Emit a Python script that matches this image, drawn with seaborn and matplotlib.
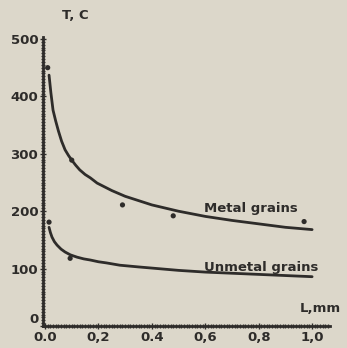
import pandas as pd
import matplotlib.pyplot as plt
import seaborn as sns
from matplotlib.ticker import MultipleLocator

# curves (L in mm, T in C)
metal_L = [0.015, 0.022, 0.03, 0.04, 0.05, 0.062, 0.075, 0.088, 0.1, 0.115, 0.13, 0.15, 0.17, 0.195,
           0.25, 0.3, 0.4, 0.5, 0.6, 0.7, 0.8, 0.9, 1.0]
metal_T = [437, 406, 376, 357, 340, 322, 307, 297, 289, 280, 272, 264, 258, 249,
           236, 226, 211, 200, 191, 184, 178, 172, 168]
unmetal_L = [0.015, 0.02, 0.026, 0.035, 0.045, 0.06, 0.075, 0.095, 0.12, 0.145, 0.17, 0.2, 0.23, 0.28,
             0.35, 0.4, 0.5, 0.6, 0.7, 0.8, 0.9, 1.0]
unmetal_T = [172, 163, 155, 147, 141, 134, 129, 124, 120, 117, 115, 112, 110, 106,
             103, 101, 97, 94, 92, 90, 88, 86]

# measured points
metal_pts_L = [0.01, 0.1, 0.29, 0.48, 0.97]
metal_pts_T = [450, 289, 211, 192, 182]
unmetal_pts_L = [0.015, 0.094]
unmetal_pts_T = [181, 118]

xtick_vals = [0.0, 0.2, 0.4, 0.6, 0.8, 1.0]
xtick_labels = ['0.0', '0,2', '0.4', '0,6', '0,8', '1,0']
ytick_vals = [0, 100, 200, 300, 400, 500]

paper = '#dcd7ca'
ink = '#2e2c2a'

sns.set_style('white')
plt.rcParams['font.family'] = ['DejaVu Sans']

fig = plt.figure(figsize=(3.47, 3.48), dpi=100, facecolor=paper)
ax = fig.add_axes([0.124, 0.063, 0.827, 0.83])
ax.set_facecolor(paper)

curves = pd.concat([
    pd.DataFrame({'L': metal_L, 'T': metal_T, 'grain': 'Metal'}),
    pd.DataFrame({'L': unmetal_L, 'T': unmetal_T, 'grain': 'Unmetal'}),
])
pts = pd.concat([
    pd.DataFrame({'L': metal_pts_L, 'T': metal_pts_T, 'grain': 'Metal'}),
    pd.DataFrame({'L': unmetal_pts_L, 'T': unmetal_pts_T, 'grain': 'Unmetal'}),
])

sns.lineplot(data=curves, x='L', y='T', units='grain', estimator=None,
             color=ink, lw=2, ax=ax, legend=False)
sns.scatterplot(data=pts, x='L', y='T', color=ink, s=14, edgecolor='none',
                ax=ax, legend=False)

ax.set_xlim(-0.0075, 1.067)
ax.set_ylim(0, 503)
sns.despine(ax=ax)
for s in ['left', 'bottom']:
    ax.spines[s].set_color(ink)
    ax.spines[s].set_linewidth(2)

ax.set_xticks(xtick_vals)
ax.set_xticklabels(xtick_labels)
ax.set_yticks(ytick_vals)
# ruler-like dense ticks as in the scan
ax.xaxis.set_minor_locator(MultipleLocator(0.01))
ax.yaxis.set_minor_locator(MultipleLocator(5))
ax.tick_params(which='both', direction='inout', color=ink, width=1,
               bottom=True, left=True)
ax.tick_params(which='major', length=5, pad=1, labelsize=9.5, labelcolor=ink)
ax.tick_params(which='minor', length=3.5)
for lab in ax.get_xticklabels() + ax.get_yticklabels():
    lab.set_fontweight('bold')
ax.get_yticklabels()[0].set_va('bottom')

ax.set_xlabel('')
ax.set_ylabel('')
ax.text(0.064, 540, 'T, C', fontsize=9.5, fontweight='bold', color=ink, va='center')
ax.text(0.955, 31, 'L,mm', fontsize=9.5, fontweight='bold', color=ink, va='center')
ax.text(0.595, 198, 'Metal grains', fontsize=9.5, fontweight='bold', color=ink)
ax.text(0.595, 96, 'Unmetal grains', fontsize=9.5, fontweight='bold', color=ink)

fig.savefig('out.png', dpi=100, facecolor=paper)
